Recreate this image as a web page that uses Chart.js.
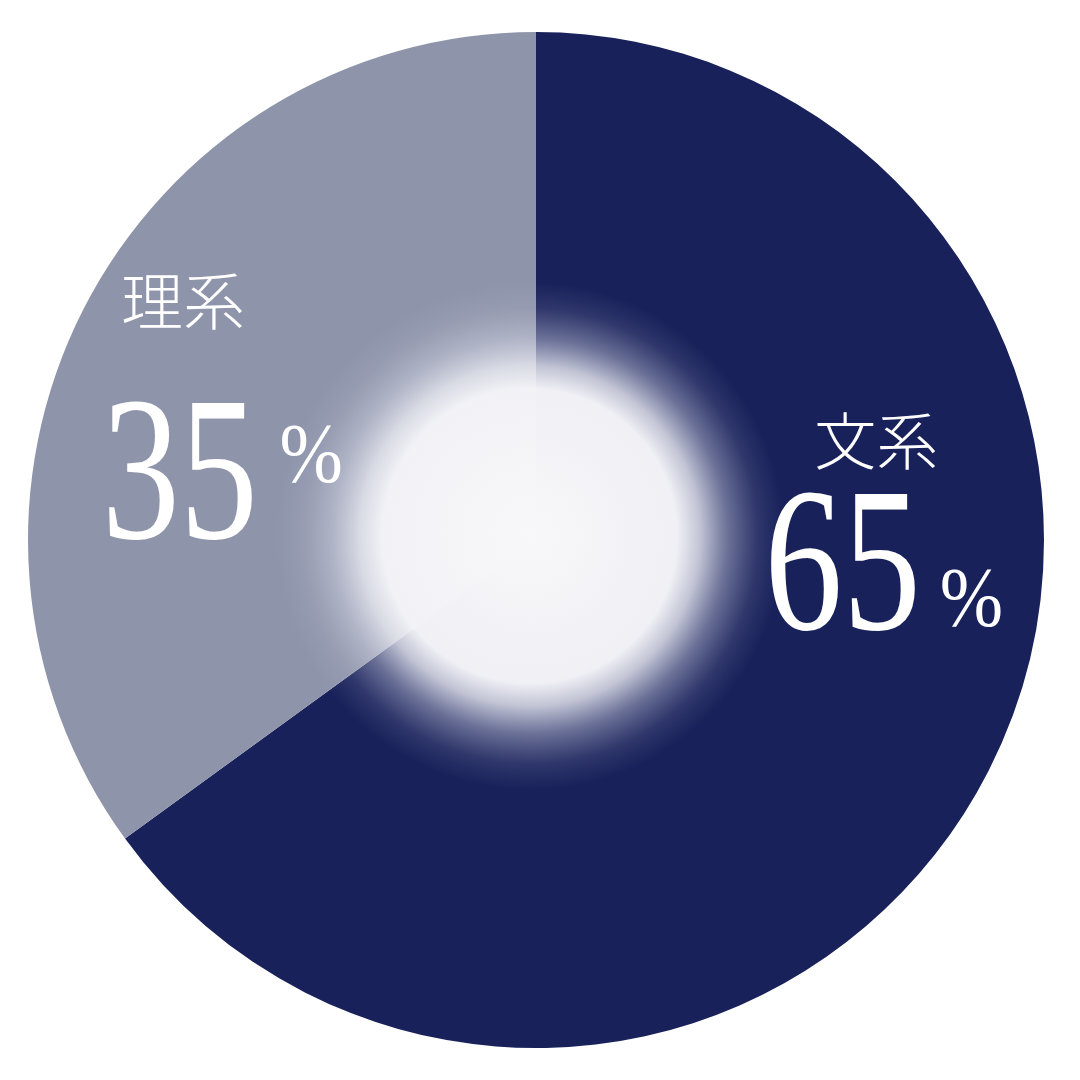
<!DOCTYPE html>
<html>
<head>
<meta charset="utf-8">
<script src="https://cdn.jsdelivr.net/npm/chart.js@4/dist/chart.umd.min.js"></script>
<style>
    html, body { margin: 0; padding: 0; background: #ffffff; }
    #wrap { width: 1080px; height: 1080px; }
</style>
</head>
<body>
<div id="wrap"><canvas id="pie"></canvas></div>
<script>
const CATEGORIES = ['文系', '理系'];
const SHARES = [65, 35];
const SLICE_COLORS = ['#18215a', '#8e94aa'];

const NUM_FONT = '"Liberation Serif", "DejaVu Serif", serif';
const NAME_FONT = '"Noto Sans CJK JP", "Noto Sans CJK SC", sans-serif';

// label placement, in fractions of the radius from the pie centre
const LABEL_LAYOUT = [
    { name: { x: 0.67, y: -0.195 }, num: { x: 0.45, y: 0.175 }, pct: { x: 0.795, y: 0.17 } },
    { name: { x: -0.695, y: -0.47 }, num: { x: -0.855, y: -0.004 }, pct: { x: -0.505, y: -0.115 } },
];

const glowPlugin = {
    id: 'centerGlow',
    afterDatasetsDraw(chart) {
        const arc = chart.getDatasetMeta(0).data[0];
        if (!arc) return;
        const { ctx } = chart;
        const cx = arc.x - 6;
        const cy = arc.y - 4;
        const r = arc.outerRadius * 0.5;
        const g = ctx.createRadialGradient(cx, cy, 0, cx, cy, r);
        g.addColorStop(0, 'rgba(248,248,250,1)');
        g.addColorStop(0.58, 'rgba(244,244,248,0.98)');
        g.addColorStop(0.67, 'rgba(236,237,243,0.8)');
        g.addColorStop(0.78, 'rgba(220,222,235,0.42)');
        g.addColorStop(0.9, 'rgba(205,208,225,0.12)');
        g.addColorStop(1, 'rgba(205,208,225,0)');
        ctx.save();
        ctx.beginPath();
        ctx.arc(arc.x, arc.y, arc.outerRadius, 0, Math.PI * 2);
        ctx.clip();
        ctx.fillStyle = g;
        ctx.fillRect(cx - r, cy - r, r * 2, r * 2);
        ctx.restore();
    },
};

// the reference uses tall book numerals, so stretch the serif digits a bit
const drawTall = (ctx, text, x, y, sx, sy) => {
    ctx.save();
    ctx.translate(x, y);
    ctx.scale(sx, sy);
    ctx.fillText(text, 0, 0);
    ctx.restore();
};

const labelPlugin = {
    id: 'sliceLabels',
    afterDraw(chart) {
        const meta = chart.getDatasetMeta(0);
        const { ctx } = chart;
        ctx.save();
        ctx.fillStyle = '#ffffff';
        meta.data.forEach((arc, i) => {
            const r = arc.outerRadius;
            const pos = LABEL_LAYOUT[i];
            ctx.textAlign = 'center';
            ctx.textBaseline = 'middle';
            ctx.font = `300 62px ${NAME_FONT}`;
            ctx.fillText(CATEGORIES[i], arc.x + pos.name.x * r, arc.y + pos.name.y * r);

            ctx.textAlign = 'left';
            ctx.textBaseline = 'alphabetic';
            ctx.font = `168px ${NUM_FONT}`;
            drawTall(ctx, String(SHARES[i]), arc.x + pos.num.x * r, arc.y + pos.num.y * r, 0.93, 1.22);
            ctx.font = `80px ${NUM_FONT}`;
            drawTall(ctx, '%', arc.x + pos.pct.x * r, arc.y + pos.pct.y * r, 0.95, 1.05);
        });
        ctx.restore();
    },
};

new Chart(document.getElementById('pie'), {
    type: 'pie',
    data: {
        labels: CATEGORIES,
        datasets: [
            {
                data: SHARES,
                backgroundColor: SLICE_COLORS,
                borderWidth: 0,
            },
        ],
    },
    options: {
        responsive: true,
        maintainAspectRatio: false,
        animation: false,
        layout: { padding: { left: 28, right: 36, top: 32, bottom: 32 } },
        plugins: {
            legend: { display: false },
            tooltip: { enabled: false },
        },
    },
    plugins: [glowPlugin, labelPlugin],
});
</script>
</body>
</html>
